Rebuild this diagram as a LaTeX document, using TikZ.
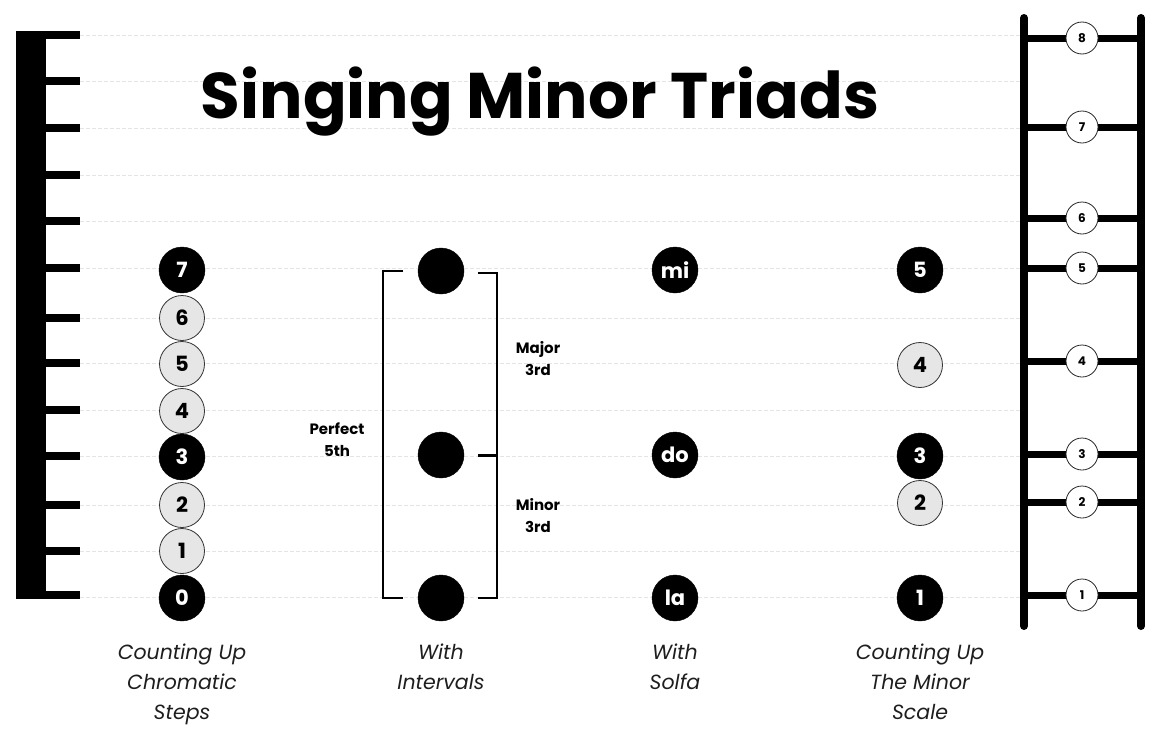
\documentclass[tikz,border=0pt]{standalone}
\usepackage{fontspec}
\setmainfont{Poppins}
\usetikzlibrary{positioning}
\definecolor{gridgray}{HTML}{E4E4E4}
\definecolor{notegray}{HTML}{E6E6E6}
\definecolor{captext}{HTML}{1E1E1E}
\tikzset{
  blacknote/.style={circle,fill=black,draw=black,minimum size=46pt,inner sep=0pt,text=white,font=\fontsize{21}{21}\selectfont\bfseries},
  graynote/.style={circle,fill=notegray,draw=black!80,line width=0.8pt,minimum size=45pt,inner sep=0pt,text=black,font=\fontsize{21}{21}\selectfont\bfseries},
  rungnote/.style={circle,fill=white,draw=black!85,line width=0.8pt,minimum size=32pt,inner sep=0pt,font=\fontsize{12}{12}\selectfont\bfseries},
  gridline/.style={gridgray,dashed,dash pattern=on 4pt off 2pt,line width=0.8pt},
  tickmark/.style={fill=black},
  rail/.style={line width=8pt,line cap=round},
  rung/.style={line width=7pt},
  bracketline/.style={line width=2pt},
  intlabel/.style={align=center,font=\fontsize{15}{22}\selectfont\bfseries},
  caption/.style={align=center,text=captext,font=\fontsize{20.5}{30}\selectfont\itshape},
}
\begin{document}
\begin{tikzpicture}[x=1pt,y=-1pt]
\useasboundingbox (0,0) rectangle (1159,736);
% grid lines
\foreach \yy in {35,81,128,175,221,268,318,363,410,456,505,551,597}{
  \draw[gridline] (80,\yy) -- (1022,\yy);
}
% ruler
\fill[black] (16,31) rectangle (46,599);
\foreach \yy in {35,81,128,175,221,268,318,363,410,456,505,551,595}{
  \fill[tickmark] (46,\yy-4) rectangle (80,\yy+4);
}
% title
\node (title) at (540,102) {\resizebox{678pt}{!}{\bfseries Singing Minor Triads}};
% ladder
\draw[rail] (1024,18) coordinate (lt) -- (1024,626) coordinate (lb);
\draw[rail] (1141,18) coordinate (rt) -- (1141,626) coordinate (rb);
\foreach \n/\yy in {1/595,2/502,3/454,4/361,5/268,6/218,7/127,8/38}{
  \draw[rung] (1024,\yy) -- (1141,\yy);
  \node[rungnote] (r\n) at (1082,\yy) {\n};
}
% column 1: chromatic
\node[blacknote] (c7) at (182,270) {7};
\node[graynote] (c6) at (182,318) {6};
\node[graynote] (c5) at (182,364) {5};
\node[graynote] (c4) at (182,411) {4};
\node[blacknote] (c3) at (182,457) {3};
\node[graynote] (c2) at (182,505) {2};
\node[graynote] (c1) at (182,551) {1};
\node[blacknote] (c0) at (182,598) {0};
% column 2: intervals
\node[blacknote] (i5) at (441,271) {};
\node[blacknote] (i3) at (441,455) {};
\node[blacknote] (i1) at (441,598) {};
\draw[bracketline] (403,271) coordinate (lbt) -- (383,271) -- (383,598) -- (403,598) coordinate (lbb);
\draw[bracketline] (478,273) coordinate (rbt) -- (497,273) -- (497,598) -- (478,598) coordinate (rbb);
\draw[line width=3pt] (478,455) coordinate (rbm) -- (497,455);
\node[intlabel] (maj) at (538,359) {Major\\3rd};
\node[intlabel] (min) at (538,516) {Minor\\3rd};
\node[intlabel] (p5) at (337,440) {Perfect\\5th};
% column 3: solfa
\node[blacknote] (mi) at (675,270) {mi};
\node[blacknote] (do) at (675,455) {do};
\node[blacknote] (la) at (675,598) {la};
% column 4: minor scale
\node[blacknote] (m5) at (920,270) {5};
\node[graynote] (m4) at (920,365) {4};
\node[blacknote] (m3) at (920,456) {3};
\node[graynote] (m2) at (920,503) {2};
\node[blacknote] (m1) at (920,598) {1};
% captions
\node[caption,anchor=north] (cap1) at (182,640) {Counting Up\\Chromatic\\Steps};
\node[caption,anchor=north] (cap2) at (441,640) {With\\Intervals};
\node[caption,anchor=north] (cap3) at (675,640) {With\\Solfa};
\node[caption,anchor=north] (cap4) at (920,640) {Counting Up\\The Minor\\Scale};
\end{tikzpicture}
\end{document}
